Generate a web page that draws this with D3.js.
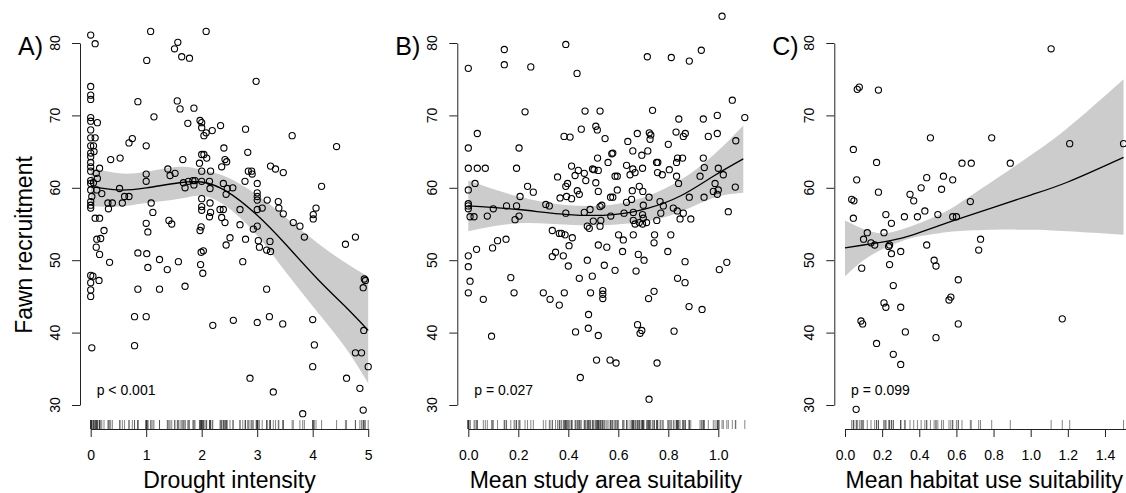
<!DOCTYPE html>
<html>
<head>
<meta charset="utf-8">
<script src="https://cdn.jsdelivr.net/npm/d3@7"></script>
<style>
    body { margin: 0; background: #fff; }
    svg text { font-family: "Liberation Sans", Arial, sans-serif; fill: #000; }
</style>
</head>
<body>
<svg id="chart" width="1126" height="493"></svg>
<script>
// A) drought intensity vs fawn recruitment  [x, recruitment]
var droughtPts = [
    [0,81.1],[0.08,79.9],[0,74.0],[0,72.8],[0,72.2],[0,69.7],[0,69.2],[0.12,69.0],[0,68.0],[0,66.9],[0.08,66.9],
    [0,65.8],[0.05,65.8],[0,64.8],[0.06,65.0],[0,64.3],[0,63.5],[0,62.9],[0,62.3],[0.1,62.0],[0.16,62.7],[0.12,61.3],
    [0,61.0],[0,60.6],[0.05,60.7],[0,59.7],[0.11,59.7],[0.2,59.2],[0.02,58.8],[0,58.1],[0,57.6],[0,57.2],[0.08,55.8],
    [0.16,55.8],[0.24,54.1],[0.11,52.9],[0.18,53.0],[0.1,51.8],[0.16,50.8],[0.34,49.7],[0,47.9],[0.04,47.8],[0,46.9],
    [0,45.9],[0,45.0],[0.15,47.2],[0.02,37.9],
    [0.36,63.9],[0.53,64.1],[0.69,66.2],[0.75,66.8],[0.85,71.9],[1.01,77.6],[1.08,81.6],[1.14,69.8],[1.0,65.8],
    [1.0,61.9],[1.0,60.9],[0.52,59.9],[0.61,58.8],[0.69,58.8],[0.39,57.9],[0.31,57.9],[0.32,57.1],[0.57,57.9],
    [1.09,57.9],[1.12,56.6],[1.0,55.1],[1.03,53.9],[1.39,62.6],[1.43,61.7],[1.52,62.0],[1.66,63.9],[1.67,60.7],
    [1.70,60.0],[1.76,60.9],[1.84,61.0],[1.88,61.0],[1.86,60.4],[1.41,55.5],[1.46,55.0],[1.57,80.1],[1.51,79.2],
    [1.64,78.1],[1.78,77.9],[2.08,81.6],[1.56,72.0],[1.61,70.9],[1.86,71.0],[1.75,68.9],[1.97,69.3],[2.0,69.0],
    [2.0,68.3],[2.08,67.6],[2.04,67.2],[2.19,67.9],[2.34,68.6],[1.96,63.4],[2.0,64.6],[2.04,64.6],[2.09,64.1],
    [2.0,62.3],[2.16,62.3],[2.0,60.9],[2.14,60.9],[2.15,59.9],[2.0,58.5],[2.0,57.4],[2.0,56.9],[2.15,57.9],
    [2.16,56.6],[2.14,56.0],[2.33,57.0],[2.39,57.0],[2.36,55.9],[2.42,55.2],[1.99,54.6],[1.97,54.1],[2.4,65.5],
    [2.36,62.9],[2.45,63.6],[2.42,63.9],[2.39,60.6],[2.46,59.9],
    [2.98,74.7],[2.79,68.1],[3.63,67.2],[4.43,65.7],[2.83,64.9],[3.24,63.0],[3.33,62.6],[3.47,62.1],[2.84,62.3],
    [2.9,62.3],[2.91,61.9],[4.16,60.2],[2.56,60.0],[2.44,59.1],[2.78,60.9],[3.0,60.6],[3.0,59.3],[3.0,58.8],
    [3.0,58.3],[3.18,58.3],[3.38,58.1],[3.39,57.2],[3.47,56.4],[2.69,57.0],[3.0,57.0],[3.09,57.2],[4.06,57.2],
    [4.01,56.3],[4.01,55.7],[2.69,54.9],[2.93,54.3],[3.0,54.7],[3.65,55.2],[3.77,54.7],[3.85,53.2],[2.51,53.1],
    [2.79,52.9],[3.02,52.7],[3.23,52.6],[4.59,52.2],[4.77,53.2],[2.44,52.1],
    [0.85,51.0],[1.01,50.9],[1.03,49.0],[0.85,46.0],[1.24,50.1],[1.38,48.7],[1.58,49.8],[1.24,46.0],[1.7,46.4],
    [0.79,42.2],[1.0,42.2],[0.79,38.2],[2.03,51.3],[1.99,51.1],[1.98,49.4],[2.02,48.2],[2.2,41.0],
    [3.04,51.8],[3.17,51.4],[3.24,51.2],[2.74,49.8],[4.93,47.4],[4.95,47.2],[4.91,46.2],[3.17,46.0],[2.57,41.7],
    [3.0,41.4],[3.22,42.2],[3.46,41.2],[4.0,41.8],[4.03,38.3],[4.0,35.3],[4.92,40.3],[4.77,37.2],[4.88,37.2],
    [5.0,35.3],[2.87,33.7],[3.29,31.8],[4.61,33.7],[4.85,32.3],[3.82,28.8],[4.91,29.3]
];
var droughtCurveX = [0, 0.5, 1.0, 1.6, 2.0, 2.45, 3.0, 3.5, 4.1, 4.6, 5.0];
var droughtFit    = [60.2, 59.7, 60.0, 60.7, 60.8, 59.5, 56.2, 52.3, 47.3, 43.5, 40.3];
var droughtLo     = [57.5, 57.4, 57.9, 58.5, 58.9, 57.4, 53.4, 48.5, 42.7, 37.8, 33.0];
var droughtHi     = [62.8, 62.0, 62.2, 62.9, 62.5, 61.5, 59.0, 56.0, 52.3, 49.6, 47.7];

// B) mean study area suitability
var studyPts = [
    [0,76.5],[0.144,79.1],[0.144,77.0],[0.25,76.7],[0.39,79.8],[0.435,75.8],[0.227,70.5],[0.467,70.6],[0.527,70.6],
    [0.036,67.5],[0.383,67.1],[0.407,67.0],[0.452,68.1],[0.51,68.5],[0.516,68.0],[0,65.5],[0.203,65.5],[0,62.7],
    [0.036,62.7],[0.068,62.7],[0.193,62.7],[0.027,60.6],[0,59.7],[0,57.8],[0,57.5],[0,57.1],[0.007,56.0],[0.023,56.0],
    [0.076,56.1],[0.1,57.1],[0.153,57.5],[0.193,57.5],[0.187,55.6],[0.203,56.1],[0.207,58.8],[0.237,60.2],[0.26,59.4],
    [0.31,57.7],[0.324,57.5],[0.357,61.5],[0.367,58.6],[0.393,58.8],[0.397,60.6],[0.39,60.2],[0.413,63.0],[0.427,61.7],
    [0.44,62.4],[0.464,62.0],[0.436,59.6],[0.444,59.1],[0.413,58.5],[0.47,61.0],[0.497,62.6],[0.503,62.5],[0.51,60.7],
    [0.517,64.1],[0.52,62.4],[0.52,59.5],[0.464,56.6],[0.487,57.0],[0.39,56.5],[0.476,54.7],[0.484,54.4],[0.5,55.4],
    [0.527,54.7],[0.527,57.4],[0.336,54.1],[0.364,53.7],[0.373,53.7],[0.387,53.5],[0.416,53.1],[0.403,52.0],[0.52,52.1],
    [0.151,52.9],[0.117,52.7],[0.097,51.7],[0.033,51.5],
    [1.015,83.7],[0.716,78.1],[0.812,78.0],[0.884,77.5],[0.932,79.0],[1.056,72.1],[1.106,69.7],[0.737,70.7],
    [0.842,69.5],[0.94,69.5],[0.996,70.0],[0.547,66.8],[0.638,66.4],[0.676,67.5],[0.724,67.6],[0.73,67.3],[0.727,66.7],
    [0.831,67.7],[0.86,67.1],[0.868,67.5],[0.96,67.1],[0.996,67.5],[1.07,66.5],[0.8,66.0],[0.658,65.1],[0.694,64.5],
    [0.718,65.1],[0.574,64.7],[0.578,64.8],[0.559,63.5],[0.633,63.1],[0.658,62.6],[0.667,62.1],[0.647,61.8],[0.697,62.7],
    [0.753,63.5],[0.758,63.5],[0.757,62.1],[0.776,61.8],[0.804,62.5],[0.833,63.5],[0.837,64.1],[0.857,64.1],[0.833,61.6],
    [0.841,60.6],[0.94,64.1],[0.944,62.8],[1.0,62.7],[1.02,61.8],[0.927,61.6],[0.587,61.6],[0.596,61.6],[0.569,58.7],
    [0.578,58.7],[0.596,59.7],[0.633,58.0],[0.653,58.4],[0.656,59.6],[0.684,60.2],[0.698,59.5],[0.723,58.7],[0.767,58.1],
    [0.78,57.5],[0.7,57.6],[0.884,58.7],[0.943,58.7],[0.987,60.6],[1.0,59.7],[0.98,59.5],[0.996,59.1],[1.068,60.1],
    [1.04,56.7],[0.534,57.6],[0.623,56.5],[0.66,56.6],[0.697,56.3],[0.7,55.8],[0.77,56.5],[0.82,57.2],[0.836,56.8],
    [0.86,56.5],[0.847,55.7],[0.89,55.7],[0.53,55.5],[0.57,56.1],[0.66,55.5],[0.667,55.0],[0.684,55.2],[0.697,55.0],
    [0.713,55.2],[0.754,55.5],[0.601,53.5],[0.62,52.8],[0.66,53.5],[0.745,53.5],[0.743,52.4],[0.81,53.5],[0.554,51.8],
    [0,50.6],[0,49.1],[0.007,47.1],[0,45.5],[0.06,44.6],[0.093,39.5],[0.17,47.6],[0.183,45.5],[0.3,45.5],[0.327,44.6],
    [0.364,43.8],[0.384,45.5],[0.336,50.5],[0.349,51.1],[0.38,50.6],[0.4,49.2],[0.444,47.5],[0.476,50.0],[0.496,47.8],
    [0.489,45.5],[0.481,42.5],[0.48,40.6],[0.429,40.1],[0.52,39.6],[0.513,36.2],[0.448,33.8],
    [0.617,51.2],[0.68,50.8],[0.703,50.0],[0.798,51.2],[0.867,49.8],[0.544,49.3],[0.587,48.6],[0.671,48.5],[1.004,48.7],
    [1.034,49.7],[0.837,47.5],[0.867,46.9],[0.538,45.8],[0.538,45.3],[0.538,44.7],[0.743,45.7],[0.721,44.7],[0.883,43.6],
    [0.935,43.2],[0.677,41.1],[0.694,40.3],[0.687,39.9],[0.823,40.2],[0.567,36.2],[0.591,35.8],[0.755,35.8],[0.723,30.8]
];
var studyCurveX = [0, 0.2, 0.4, 0.58, 0.72, 0.85, 0.98, 1.1];
var studyFit    = [57.5, 57.0, 56.3, 56.3, 57.2, 58.9, 61.6, 64.0];
var studyLo     = [54.0, 55.1, 54.9, 54.9, 55.4, 56.7, 58.6, 59.3];
var studyHi     = [61.0, 58.8, 57.6, 57.7, 58.9, 61.1, 64.5, 68.6];

// C) mean habitat use suitability
var habitatPts = [
    [1.11,79.2],[0.066,73.6],[0.077,73.9],[0.18,73.5],[0.045,65.3],[0.46,66.9],[0.79,66.9],[1.21,66.1],[1.5,66.1],
    [0.17,63.5],[0.63,63.4],[0.68,63.4],[0.89,63.4],[0.063,61.1],[0.44,61.4],[0.53,61.6],[0.58,61.1],[0.41,60.0],
    [0.52,59.8],[0.18,59.4],[0.35,59.1],[0.37,58.2],[0.036,58.4],[0.048,58.2],[0.675,58.1],[0.045,55.8],[0.22,56.3],
    [0.25,55.1],[0.32,56.0],[0.39,56.0],[0.43,56.8],[0.5,56.3],[0.58,56.0],[0.6,56.0],[0.21,53.8],[0.12,53.8],
    [0.1,52.9],[0.14,52.4],[0.16,52.1],[0.24,52.1],[0.235,51.9],[0.44,52.1],[0.73,52.9],[0.72,51.4],[0.3,51.2],
    [0.25,50.9],[0.09,48.9],[0.24,49.4],[0.48,50.0],[0.49,49.2],[0.26,46.5],[0.61,47.3],[0.21,44.1],[0.22,43.5],
    [0.3,43.5],[0.56,44.5],[0.57,44.9],[0.086,41.6],[0.095,41.2],[0.325,40.1],[0.61,41.2],[0.49,39.3],[1.17,41.9],
    [0.17,38.5],[0.26,37.0],[0.3,35.6],[0.06,29.4]
];
var habitatCurveX = [0, 0.1, 0.2, 0.3, 0.4, 0.5, 0.6, 0.8, 1.0, 1.2, 1.5];
var habitatFit    = [51.7, 52.1, 52.5, 53.0, 53.8, 54.7, 55.6, 57.3, 59.0, 60.8, 64.2];
var habitatLo     = [47.8, 50.0, 51.5, 52.6, 53.3, 53.7, 54.0, 54.2, 54.2, 54.0, 53.5];
var habitatHi     = [55.5, 54.3, 53.7, 54.2, 55.1, 56.2, 57.6, 61.0, 64.5, 68.3, 75.0];

var yTicks = [30, 40, 50, 60, 70, 80];

var panels = [
    { letter: 'A)', xlab: 'Drought intensity', pText: 'p < 0.001', pts: droughtPts,
      cx: droughtCurveX, fit: droughtFit, lo: droughtLo, hi: droughtHi,
      left: 80, x0: 90.7, unit: 55.5, xDomain: [0, 5], xTicks: [0, 1, 2, 3, 4, 5], fmt: d3.format('d'), mid: 2.5 },
    { letter: 'B)', xlab: 'Mean study area suitability', pText: 'p = 0.027', pts: studyPts,
      cx: studyCurveX, fit: studyFit, lo: studyLo, hi: studyHi,
      left: 457.3, x0: 468.3, unit: 250, xDomain: [0, 1], xTicks: [0, 0.2, 0.4, 0.6, 0.8, 1.0], fmt: d3.format('.1f'), mid: 0.55 },
    // axis line runs on past the window edge, last visible tick is 1.4
    { letter: 'C)', xlab: 'Mean habitat use suitability', pText: 'p = 0.099', pts: habitatPts,
      cx: habitatCurveX, fit: habitatFit, lo: habitatLo, hi: habitatHi,
      left: 834.3, x0: 845, unit: 185.7, xDomain: [0, 1.6], xTicks: [0, 0.2, 0.4, 0.6, 0.8, 1.0, 1.2, 1.4], fmt: d3.format('.1f'), mid: 0.75 }
];

var svg = d3.select('#chart');
svg.append('rect').attr('width', 1126).attr('height', 493).attr('fill', '#fff');

var y = d3.scaleLinear().domain([30, 80]).range([405, 43]);
var axisY = 429;

function drawPanel(p) {
    var g = svg.append('g');
    var x = d3.scaleLinear().domain(p.xDomain)
        .range([p.x0, p.x0 + (p.xDomain[1] - p.xDomain[0]) * p.unit]);

    var curve = p.cx.map(function (v, i) {
        return { x: v, fit: p.fit[i], lo: p.lo[i], hi: p.hi[i] };
    });

    //confidence band
    var band = d3.area()
        .x(function (d) { return x(d.x); })
        .y0(function (d) { return y(d.lo); })
        .y1(function (d) { return y(d.hi); })
        .curve(d3.curveNatural);
    g.append('path').datum(curve).attr('d', band).attr('fill', '#cccccc');

    //smooth line
    var line = d3.line()
        .x(function (d) { return x(d.x); })
        .y(function (d) { return y(d.fit); })
        .curve(d3.curveNatural);
    g.append('path').datum(curve).attr('d', line)
        .attr('fill', 'none').attr('stroke', '#000').attr('stroke-width', 1.3);

    //points
    g.selectAll('circle.pt').data(p.pts).enter().append('circle')
        .attr('class', 'pt')
        .attr('cx', function (d) { return x(d[0]); })
        .attr('cy', function (d) { return y(d[1]); })
        .attr('r', 3.1)
        .attr('fill', 'none').attr('stroke', '#000').attr('stroke-width', 1.1);

    //rug
    g.selectAll('line.rug').data(p.pts).enter().append('line')
        .attr('class', 'rug')
        .attr('x1', function (d) { return x(d[0]); })
        .attr('x2', function (d) { return x(d[0]); })
        .attr('y1', axisY - 9).attr('y2', axisY)
        .attr('stroke', '#333').attr('stroke-width', 0.6);

    //x axis
    var xa = g.append('g').attr('transform', 'translate(0,' + axisY + ')')
        .call(d3.axisBottom(x).tickValues(p.xTicks).tickSize(8).tickSizeOuter(0)
            .tickPadding(13).tickFormat(p.fmt));
    xa.selectAll('text').style('font-size', '14px').style('font-family', '"Liberation Sans", Arial, sans-serif');
    xa.selectAll('path, line').attr('stroke', '#222');

    //y axis
    var ya = g.append('g').attr('transform', 'translate(' + p.left + ',0)')
        .call(d3.axisLeft(y).tickValues(yTicks).tickSize(8).tickSizeOuter(0).tickFormat(''));
    ya.selectAll('path, line').attr('stroke', '#222');
    g.selectAll('text.ytick').data(yTicks).enter().append('text')
        .attr('class', 'ytick')
        .attr('transform', function (d) { return 'translate(' + (p.left - 25) + ',' + y(d) + ') rotate(-90)'; })
        .attr('text-anchor', 'middle').attr('dominant-baseline', 'central')
        .style('font-size', '14px')
        .text(function (d) { return d; });

    //labels
    g.append('text').attr('x', x(p.mid)).attr('y', 488)
        .attr('text-anchor', 'middle').style('font-size', '23px').text(p.xlab);
    g.append('text').attr('x', p.left - 62).attr('y', 55)
        .style('font-size', '25px').text(p.letter);
    g.append('text').attr('x', x(0) + 6).attr('y', 395)
        .style('font-size', '14px').text(p.pText);
}

panels.forEach(drawPanel);

svg.append('text')
    .attr('transform', 'translate(24,245) rotate(-90)')
    .attr('text-anchor', 'middle').attr('dominant-baseline', 'central')
    .style('font-size', '23px')
    .text('Fawn recruitment');
</script>
</body>
</html>
